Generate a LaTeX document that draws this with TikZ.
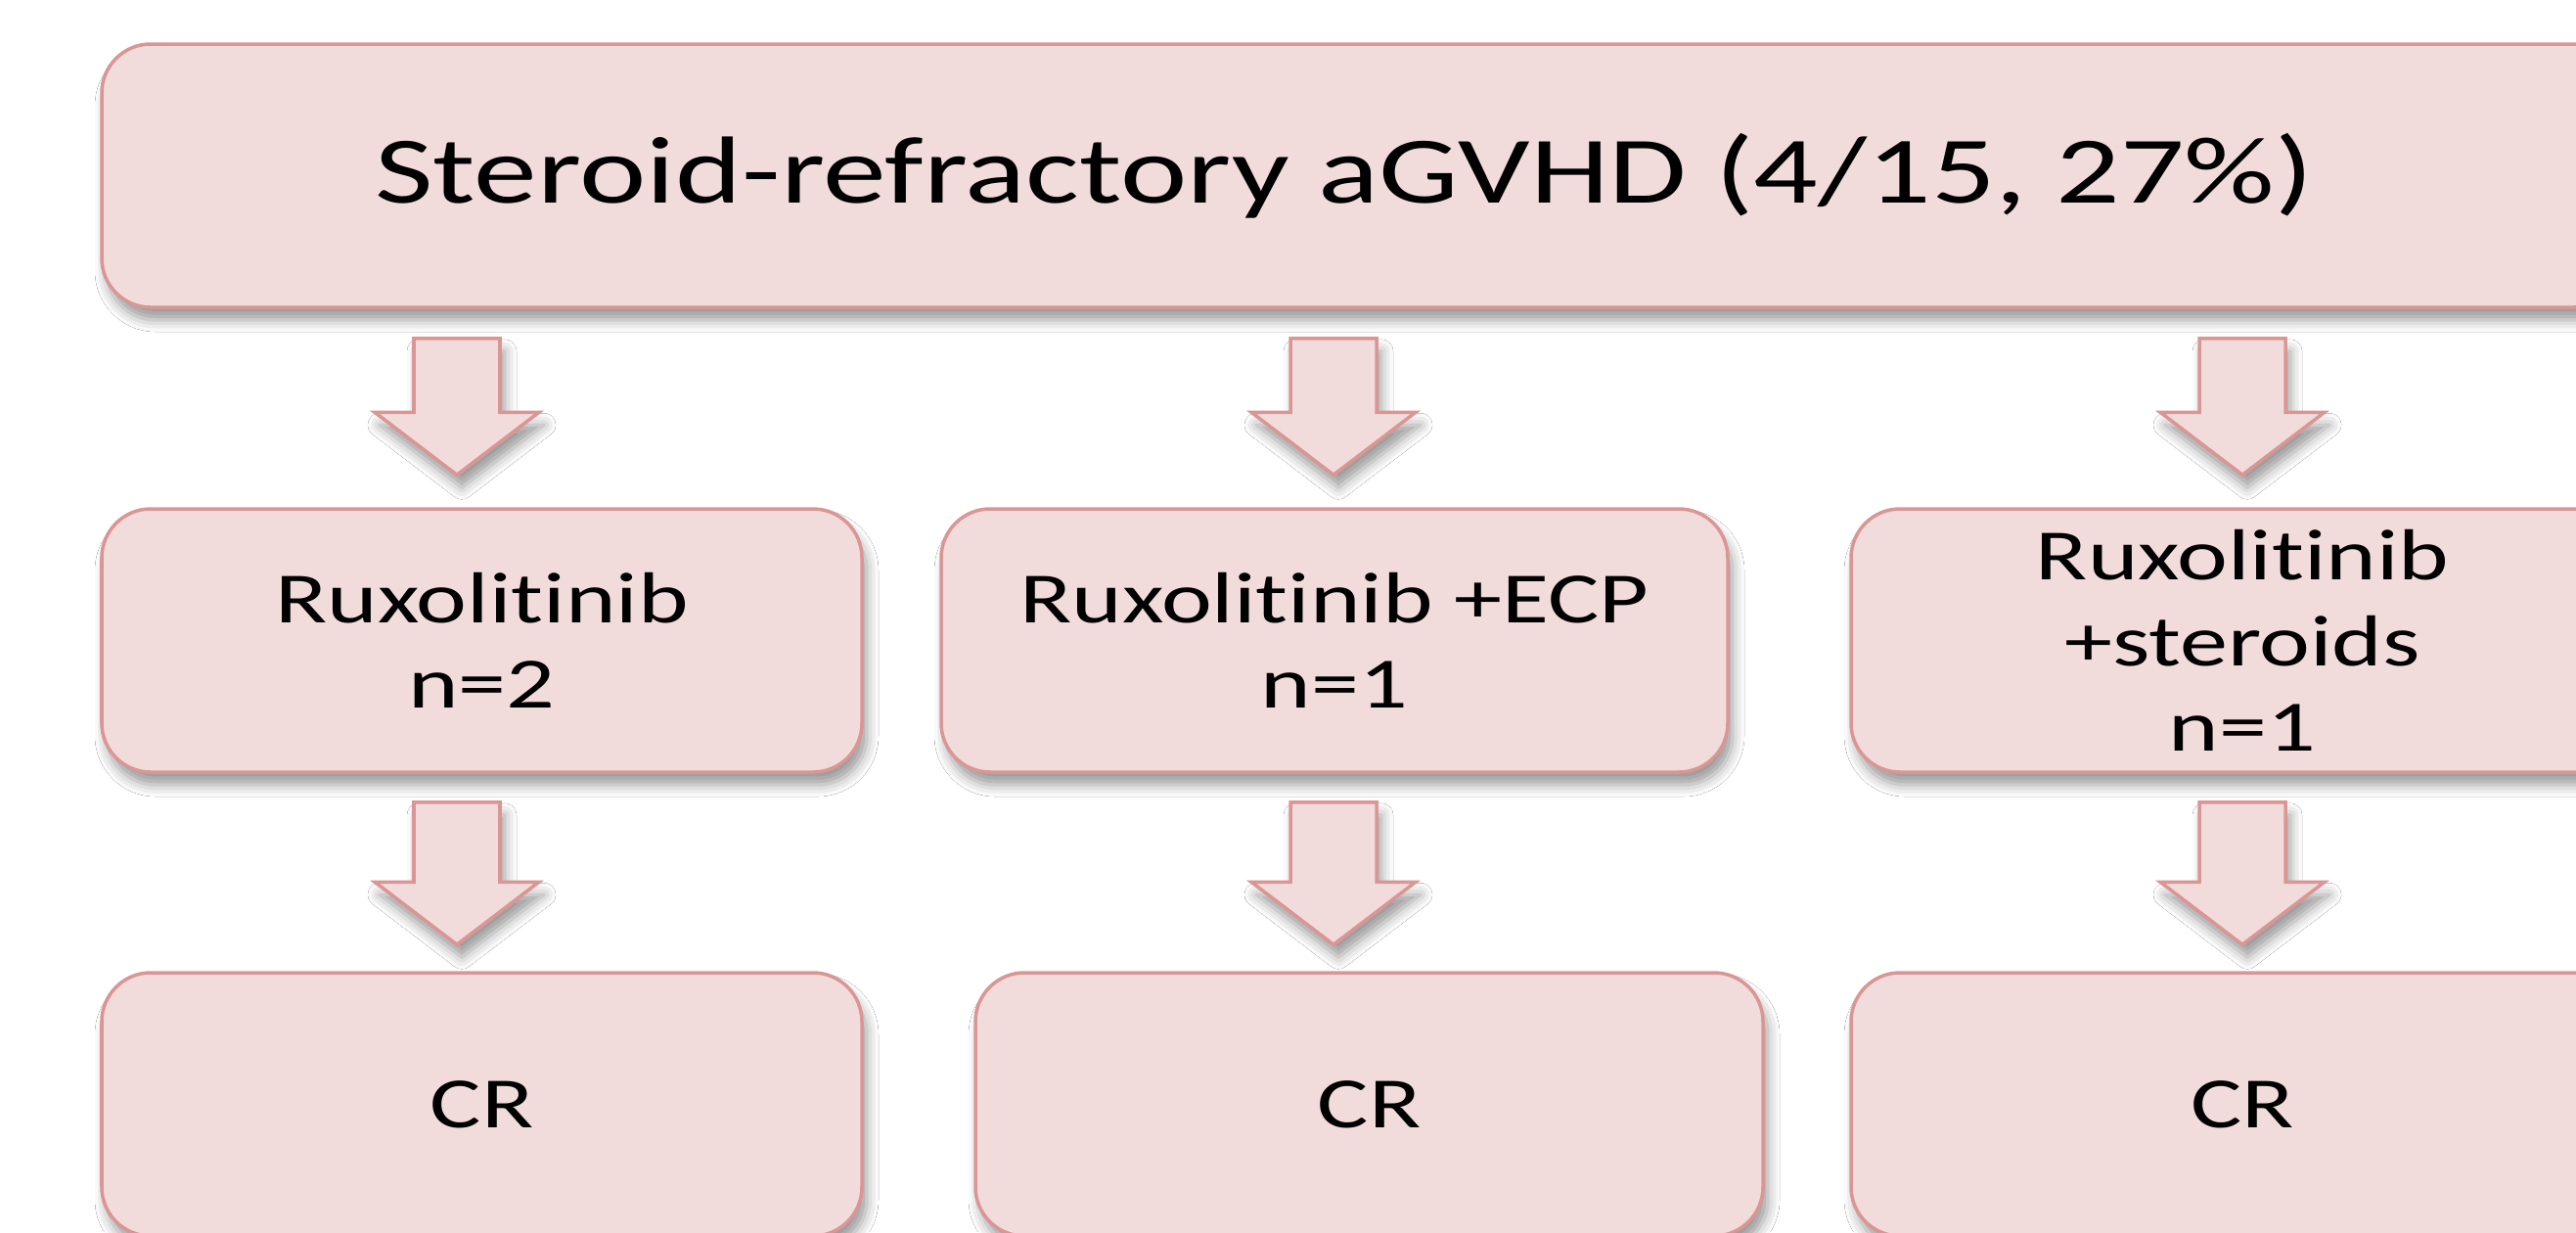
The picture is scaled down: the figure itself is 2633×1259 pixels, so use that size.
\documentclass[tikz,border=0pt]{standalone}
\usepackage{fontspec}
\setmainfont{Carlito}[FakeStretch=1.33,Ligatures={CommonOff,ContextualOff}]
\usepackage{tikz}
\usetikzlibrary{calc,shadows.blur}

\definecolor{boxfill}{HTML}{F2DCDB}
\definecolor{boxline}{HTML}{D99694}

\tikzset{
  softshadow/.style={blur shadow={shadow xshift=0.5mm, shadow yshift=-1.3mm, shadow blur radius=1.2mm, shadow opacity=40}},
  stage/.style={draw=boxline, fill=boxfill, line width=1pt, rounded corners=5mm,
    minimum height=26.9mm, inner sep=0pt, align=center, softshadow,
    font=\fontsize{21}{24.8}\selectfont},
  blockarrow/.style={draw=boxline, fill=boxfill, line width=1pt, softshadow}
}

% block arrow from the top of its shaft (#1) down to its tip (#2)
\newcommand{\flowarrow}[2]{%
  \draw[blockarrow] let \p1=(#1), \p2=(#2) in
    (\x1-4.4mm,\y1) -- (\x1+4.4mm,\y1) -- (\x1+4.4mm,\y2+6.4mm) -- (\x1+8.4mm,\y2+6.4mm)
    -- (\x1,\y2) -- (\x1-8.4mm,\y2+6.4mm) -- (\x1-4.4mm,\y2+6.4mm) -- cycle;}

\begin{document}
\begin{tikzpicture}[x=0.1mm,y=-0.1mm]
\clip (0,0) rectangle (2633,1259);
\useasboundingbox (0,0) rectangle (2633,1259);
\fill[white] (0,0) rectangle (2633,1259);
\coordinate (col1) at (467,0);
\coordinate (col2) at (1363,0);
\coordinate (col3) at (2292,0);
% the title box runs past the right edge, its text sits left of the box centre
\node[stage, minimum width=257.6mm, font=\fontsize{27.7}{33}\selectfont] (srgvhd) at (1392,179.5) {\hspace*{-3.6mm}Steroid-refractory aGVHD (4/15, 27\%)};
\node[stage, minimum width=77.7mm] (rux) at (492.5,654.5) {Ruxolitinib\\n=2};
\node[stage, minimum width=80.4mm] (ruxecp) at (1364,654.5) {Ruxolitinib +ECP\\n=1};
\node[stage, minimum width=80mm] (ruxster) at (2292,654.5) {Ruxolitinib\\+steroids\\n=1};
\node[stage, minimum width=77.7mm] (cr1) at (492.5,1128.5) {CR};
\node[stage, minimum width=80.5mm] (cr2) at (1399.5,1128.5) {CR};
\node[stage, minimum width=80mm] (cr3) at (2292,1128.5) {CR};
\coordinate (a1top) at ($(srgvhd.south -| col1)+(0,-3mm)$);
\coordinate (a1tip) at ($(rux.north -| col1)+(0,3.3mm)$);
\coordinate (a2top) at ($(srgvhd.south -| col2)+(0,-3mm)$);
\coordinate (a2tip) at ($(ruxecp.north -| col2)+(0,3.3mm)$);
\coordinate (a3top) at ($(srgvhd.south -| col3)+(0,-3mm)$);
\coordinate (a3tip) at ($(ruxster.north -| col3)+(0,3.3mm)$);
\coordinate (b1top) at ($(rux.south -| col1)+(0,-2.9mm)$);
\coordinate (b1tip) at ($(cr1.north -| col1)+(0,2.7mm)$);
\coordinate (b2top) at ($(ruxecp.south -| col2)+(0,-2.9mm)$);
\coordinate (b2tip) at ($(cr2.north -| col2)+(0,2.7mm)$);
\coordinate (b3top) at ($(ruxster.south -| col3)+(0,-2.9mm)$);
\coordinate (b3tip) at ($(cr3.north -| col3)+(0,2.7mm)$);
\flowarrow{a1top}{a1tip}
\flowarrow{a2top}{a2tip}
\flowarrow{a3top}{a3tip}
\flowarrow{b1top}{b1tip}
\flowarrow{b2top}{b2tip}
\flowarrow{b3top}{b3tip}
\end{tikzpicture}
\end{document}
